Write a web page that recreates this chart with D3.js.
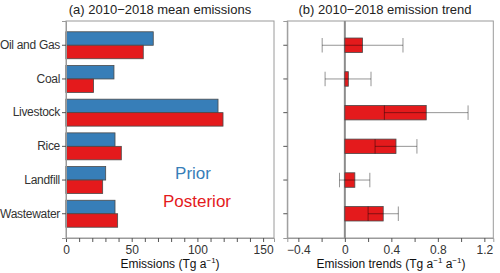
<!DOCTYPE html>
<html><head><meta charset="utf-8">
<script src="https://cdn.jsdelivr.net/npm/d3@7"></script>
<style>body{margin:0;background:#fff}svg{display:block}text{font-family:Arial,"Liberation Sans",sans-serif}</style>
</head><body>
<svg id="c" width="500" height="273"></svg>
<script>
const categories = ["Oil and Gas","Coal","Livestock","Rice","Landfill","Wastewater"];
const priorValues = [66.4, 36.5, 115.7, 37.3, 30.2, 37.3];
const posteriorValues = [58.8, 21.0, 119.5, 42.1, 27.9, 39.3];
const trendValues = [0.152, 0.03, 0.70, 0.44, 0.086, 0.33];
const trendLow = [-0.195, -0.17, 0.34, 0.26, -0.046, 0.20];
const trendHigh = [0.50, 0.225, 1.06, 0.62, 0.215, 0.46];
const ticksA = [0, 50, 100, 150];
const ticksB = [-0.4, 0, 0.4, 0.8, 1.2];

const svg = d3.select("#c");
const pTop = 21, pBot = 238;
const y = d3.scaleBand().domain(categories).range([pTop, pBot]).paddingInner(0.2).paddingOuter(0.32);
const blue = "#377eb8", red = "#e41a1c", outline = "#4a4a4a", frame = "#9a9a9a", tickCol = "#555";

// Panel A
const xa = d3.scaleLinear().domain([0, 158.3]).range([66, 274]);
const ga = svg.append("g");
ga.append("rect").attr("x",66).attr("y",pTop).attr("width",274-66).attr("height",pBot-pTop)
  .attr("fill","none").attr("stroke",frame).attr("stroke-width",1);
const bh = y.bandwidth()/2;
ga.selectAll(".pr").data(categories).enter().append("rect")
  .attr("x", xa(0)).attr("y", d=>y(d)).attr("height", bh)
  .attr("width", (d,i)=>xa(priorValues[i])-xa(0))
  .attr("fill", blue).attr("stroke", outline).attr("stroke-width",0.8);
ga.selectAll(".po").data(categories).enter().append("rect")
  .attr("x", xa(0)).attr("y", d=>y(d)+bh).attr("height", bh)
  .attr("width", (d,i)=>xa(posteriorValues[i])-xa(0))
  .attr("fill", red).attr("stroke", outline).attr("stroke-width",0.8);
const axA = ga.append("g").attr("transform",`translate(0,${pBot})`)
  .call(d3.axisBottom(xa).tickValues(d3.range(0,151,10)).tickSize(4).tickFormat(d=>ticksA.includes(d)?d:""));
const ayA = ga.append("g").attr("transform",`translate(66,0)`)
  .call(d3.axisLeft(y).tickSize(4).tickPadding(2));
[axA, ayA].forEach(a=>{
  a.select(".domain").attr("stroke",frame);
  a.selectAll(".tick line").attr("stroke",tickCol);
  a.selectAll("text").attr("fill","#333").style("font-size","12px");
});
ayA.selectAll("text").style("letter-spacing","-0.3px");
ga.append("text").attr("x",160).attr("y",14).attr("text-anchor","middle").style("font-size","13px").attr("fill","#222")
  .text("(a)  2010\u22122018 mean emissions");
const la = ga.append("text").attr("x",170).attr("y",268).attr("text-anchor","middle").style("font-size","12px").attr("fill","#111");
la.append("tspan").text("Emissions (Tg a");
la.append("tspan").attr("dy",-5).style("font-size","8px").text("\u22121");
la.append("tspan").attr("dy",5).text(")");
ga.append("text").attr("x",193).attr("y",179).attr("text-anchor","middle").style("font-size","17px").attr("fill",blue).text("Prior");
ga.append("text").attr("x",197).attr("y",207).attr("text-anchor","middle").style("font-size","17px").attr("fill",red).text("Posterior");

// Panel B
const xb = d3.scaleLinear().domain([-0.495, 1.277]).range([287.3, 493.3]);
const gb = svg.append("g");
gb.append("rect").attr("x",287.3).attr("y",pTop).attr("width",493.3-287.3).attr("height",pBot-pTop)
  .attr("fill","none").attr("stroke",frame).attr("stroke-width",1);
gb.append("line").attr("x1",xb(0)).attr("x2",xb(0)).attr("y1",pTop).attr("y2",pBot)
  .attr("stroke","#8c8c8c").attr("stroke-width",2);
const tb = 14.5;
gb.selectAll(".tr").data(categories).enter().append("rect")
  .attr("x", xb(0)).attr("y", d=>y(d)+y.bandwidth()/2-tb/2).attr("height", tb)
  .attr("width", (d,i)=>xb(trendValues[i])-xb(0))
  .attr("fill", red).attr("stroke", outline).attr("stroke-width",0.8);
const eb = gb.selectAll(".eb").data(categories).enter().append("g").attr("stroke","rgba(0,0,0,0.42)").attr("stroke-width",1);
const cy = d=>y(d)+y.bandwidth()/2;
eb.append("line").attr("x1",(d,i)=>xb(trendLow[i])).attr("x2",(d,i)=>xb(trendHigh[i])).attr("y1",cy).attr("y2",cy);
eb.append("line").attr("x1",(d,i)=>xb(trendLow[i])).attr("x2",(d,i)=>xb(trendLow[i]))
  .attr("y1",d=>cy(d)-tb/2).attr("y2",d=>cy(d)+tb/2);
eb.append("line").attr("x1",(d,i)=>xb(trendHigh[i])).attr("x2",(d,i)=>xb(trendHigh[i]))
  .attr("y1",d=>cy(d)-tb/2).attr("y2",d=>cy(d)+tb/2);
const fmtB = d=>{const r=Math.round(d*10)/10; if(!ticksB.includes(r)) return ""; if(r===0) return "0"; return (r<0?"\u2212":"")+Math.abs(r).toFixed(1);};
const axB = gb.append("g").attr("transform",`translate(0,${pBot})`)
  .call(d3.axisBottom(xb).tickValues(d3.range(-4,13,2).map(v=>v/10)).tickSize(4).tickFormat(fmtB));
const ayB = gb.append("g").attr("transform",`translate(287.3,0)`)
  .call(d3.axisLeft(y).tickSize(4).tickFormat(""));
[axB, ayB].forEach(a=>{
  a.select(".domain").attr("stroke",frame);
  a.selectAll(".tick line").attr("stroke",tickCol);
  a.selectAll("text").attr("fill","#333").style("font-size","12px");
});
gb.append("text").attr("x",385).attr("y",14).attr("text-anchor","middle").style("font-size","13px").attr("fill","#222")
  .text("(b)   2010\u22122018 emission trend");
const lb = gb.append("text").attr("x",391).attr("y",268).attr("text-anchor","middle").style("font-size","12px").attr("fill","#111");
lb.append("tspan").text("Emission trends (Tg a");
lb.append("tspan").attr("dy",-5).style("font-size","8px").text("\u22121");
lb.append("tspan").attr("dy",5).text(" a");
lb.append("tspan").attr("dy",-5).style("font-size","8px").text("\u22121");
lb.append("tspan").attr("dy",5).text(")");
</script>
</body></html>
